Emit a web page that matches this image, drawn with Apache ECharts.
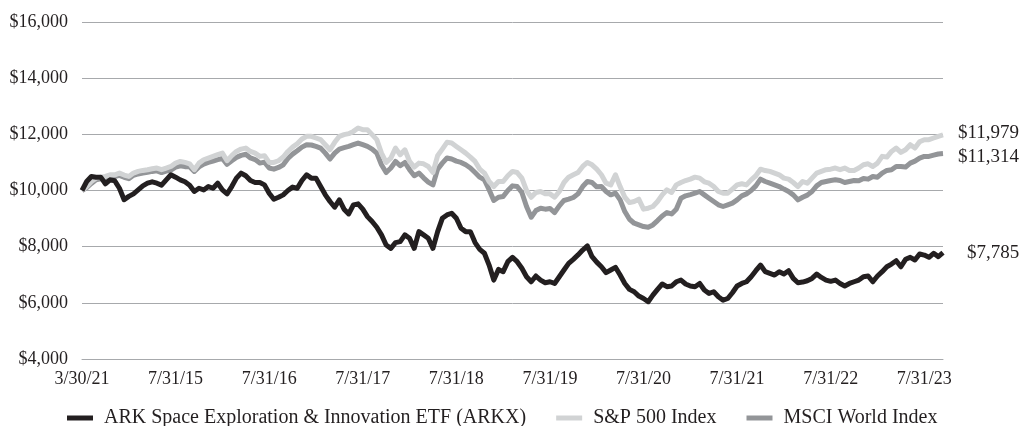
<!DOCTYPE html>
<html>
<head>
<meta charset="utf-8">
<script src="https://cdn.jsdelivr.net/npm/echarts@6/dist/echarts.min.js"></script>
<style>
  html, body { margin: 0; padding: 0; background: #fff; }
  #chart { width: 1022px; height: 426px; }
</style>
</head>
<body>
<div id="chart"></div>
<script>
// growth of $10,000 (one point every ~4.7px)
const tickLabels = ['3/30/21', '7/31/15', '7/31/16', '7/31/17', '7/31/18', '7/31/19', '7/31/20', '7/31/21', '7/31/22', '7/31/23']

const arkx = [
  10000, 10320, 10500, 10475, 10475, 10240, 10380, 10345, 10080, 9670,
  9790, 9880, 10020, 10165, 10260, 10310, 10260, 10190, 10380, 10560,
  10475, 10380, 10310, 10190, 9965, 10080, 10020, 10140, 10080, 10260,
  10020, 9880, 10140, 10440, 10620, 10525, 10355, 10285,
  10285, 10200, 9905, 9690, 9760, 9845, 10000, 10120, 10080, 10355,
  10560, 10440, 10440, 10140, 9845, 9610, 9405, 9665, 9335, 9165,
  9490, 9525, 9335, 9070, 8895, 8690, 8420, 8060, 7940, 8145,
  8180, 8420, 8300, 7940, 8535,
  8420, 8300, 7940, 8535, 9010, 9130, 9190, 9010, 8655, 8535,
  8535, 8145, 7905, 7765, 7345, 6810, 7190, 7110, 7465, 7620,
  7465, 7230, 6930, 6750, 6955, 6810, 6715, 6750, 6690, 6930,
  7170, 7405, 7550, 7705, 7880, 8025, 7645,
  7450, 7285, 7075, 7170, 7265, 6990, 6690, 6480, 6395, 6240,
  6155, 6040, 6275, 6480, 6670, 6575, 6600, 6750, 6810, 6670,
  6600, 6575, 6690, 6455, 6335, 6395, 6215, 6095, 6155, 6360,
  6600, 6690, 6750, 6930, 7145, 7345,
  7110, 7050, 6990, 7110, 7025, 7145, 6870, 6715, 6740, 6785,
  6870, 7025, 6905, 6810, 6765, 6810, 6690, 6600, 6690, 6750,
  6810, 6930, 6955, 6750, 6955, 7110, 7285, 7380, 7500, 7285,
  7550, 7620, 7525, 7740, 7700, 7620, 7765, 7645, 7785
]

const sp500 = [
  10000, 10140, 10320, 10440, 10475, 10500, 10560, 10560, 10620, 10550,
  10500, 10620, 10680, 10715, 10740, 10775, 10800, 10740, 10800, 10855,
  10975, 11035, 11000, 10950, 10740, 10975, 11095, 11155, 11215, 11275,
  11330, 11060, 11240, 11390, 11475, 11510, 11390, 11330,
  11215, 11240, 11000, 11000, 11060, 11190, 11390, 11545, 11665, 11835,
  11930, 11930, 11870, 11810, 11630, 11450, 11715, 11930, 11990, 12025,
  12105, 12225, 12165, 12165, 11990, 11810, 11330, 11000, 11155, 11510,
  11275, 11450, 11035, 10835, 10975,
  10950, 10855, 10640, 11240, 11475, 11715, 11690, 11570, 11450, 11330,
  11190, 11035, 10760, 10620, 10320, 10140, 10320, 10320, 10525, 10680,
  10640, 10440, 10000, 9760, 9930, 9965, 9880, 9880, 9760, 9965,
  10285, 10475, 10560, 10640, 10855, 11000, 10915,
  10760, 10560, 10260, 10200, 10560, 10140, 9760, 9570, 9610, 9690,
  9335, 9370, 9430, 9610, 9845, 10025, 9930, 10200, 10285, 10355,
  10405, 10475, 10440, 10310, 10260, 10140, 9965, 9905, 9905, 10050,
  10200, 10240, 10200, 10380, 10525, 10760,
  10710, 10680, 10620, 10560, 10440, 10405, 10285, 10140, 10320, 10260,
  10440, 10620, 10680, 10740, 10760, 10800, 10740, 10800, 10715, 10715,
  10800, 10915, 10950, 10855, 10975, 11215, 11190, 11390, 11510, 11355,
  11450, 11630, 11510, 11735, 11810, 11810, 11870, 11930, 11979
]

const msciWorld = [
  10000, 10100, 10250, 10380, 10420, 10440, 10490, 10500, 10540, 10470,
  10420, 10540, 10590, 10620, 10650, 10680, 10700, 10640, 10690, 10730,
  10830, 10880, 10850, 10850, 10680, 10840, 10940, 11000, 11050, 11100,
  11140, 10930, 11060, 11180, 11250, 11290, 11160, 11100,
  10975, 11010, 10800, 10760, 10820, 10915, 11140, 11295, 11415, 11545,
  11630, 11620, 11570, 11510, 11330, 11120, 11330, 11475, 11525, 11570,
  11630, 11690, 11630, 11570, 11475, 11330, 10915, 10640, 10800, 11035,
  10880, 11000, 10740, 10525, 10620,
  10450, 10300, 10200, 10760, 10975, 11155, 11120, 11045, 11000, 10915,
  10800, 10640, 10475, 10380, 10025, 9645, 9760, 9785, 10000, 10165,
  10140, 9930, 9430, 9050, 9285, 9370, 9335, 9360, 9215, 9455,
  9645, 9690, 9750, 9880, 10140, 10320, 10285,
  10130, 10140, 9965, 9845, 9905, 9665, 9250, 8975, 8835, 8775,
  8715, 8690, 8775, 8930, 9095, 9215, 9165, 9335, 9725, 9810,
  9855, 9905, 9965, 9845, 9725, 9610, 9490, 9430, 9490, 9550,
  9665, 9810, 9880, 10000, 10165, 10405,
  10320, 10260, 10200, 10140, 10050, 9965, 9845, 9665, 9760, 9835,
  9965, 10165, 10285, 10320, 10355, 10380, 10355, 10285, 10320, 10355,
  10345, 10430, 10405, 10500, 10475, 10620, 10715, 10740, 10855, 10855,
  10835, 10975, 11045, 11155, 11215, 11215, 11260, 11300, 11314
]

const LABEL_STEP = 20
const font = '"Liberation Serif", "DejaVu Serif", serif'
const ink = '#231f20'

const money = v => '$' + Math.round(v).toLocaleString('en-US')
const days = arkx.map((v, i) => String(i))

const chart = echarts.init(document.getElementById('chart'))

function lineSeries(name, data, color, dist, off) {
  return {
    name: name,
    type: 'line',
    data: data,
    showSymbol: false,
    symbol: 'none',
    lineStyle: { color: color, width: 5, join: 'round' },
    itemStyle: { color: color },
    endLabel: {
      show: true,
      distance: dist,
      offset: off,
      formatter: p => money(p.value),
      color: ink,
      fontFamily: font,
      fontSize: 19
    }
  }
}

chart.setOption({
  animation: false,
  grid: { left: 82, right: 79, top: 22, bottom: 67 },
  legend: {
    data: ['ARK Space Exploration & Innovation ETF (ARKX)', 'S&P 500 Index', 'MSCI World Index'],
    left: 62,
    top: 403,
    icon: 'rect',
    itemWidth: 26,
    itemHeight: 5,
    itemGap: 30,
    textStyle: { color: ink, fontFamily: font, fontSize: 20, padding: [0, 0, 0, 6] }
  },
  xAxis: {
    type: 'category',
    data: days,
    boundaryGap: false,
    axisLine: { show: true, lineStyle: { color: '#a7a9ac', width: 1 } },
    axisTick: { show: false },
    axisLabel: {
      interval: LABEL_STEP - 1,
      margin: 11,
      color: ink,
      fontFamily: font,
      fontSize: 18,
      formatter: (v, idx) => tickLabels[idx / LABEL_STEP] || ''
    },
    splitLine: { show: false }
  },
  yAxis: {
    type: 'value',
    min: 4000,
    max: 16000,
    interval: 2000,
    axisLine: { show: false },
    axisTick: { show: false },
    axisLabel: { margin: 14, color: ink, fontFamily: font, fontSize: 18, formatter: money },
    splitLine: { lineStyle: { color: '#a7a9ac', width: 1 } }
  },
  series: [
    lineSeries('MSCI World Index', msciWorld, '#939598', 15, [0, 3]),
    lineSeries('S&P 500 Index', sp500, '#d1d3d4', 15, [0, -2]),
    lineSeries('ARK Space Exploration & Innovation ETF (ARKX)', arkx, ink, 24, [0, 0])
  ]
})
</script>
</body>
</html>
